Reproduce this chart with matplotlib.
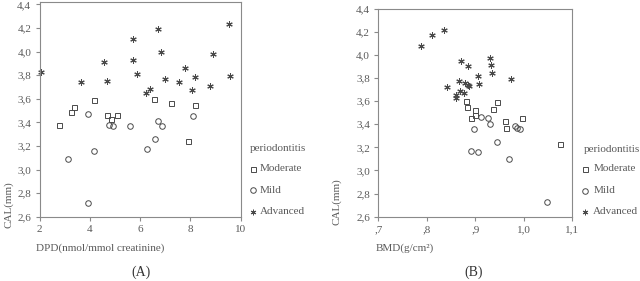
import matplotlib
matplotlib.use("Agg")
import matplotlib.pyplot as plt
from matplotlib.lines import Line2D
from matplotlib.ticker import FixedLocator, FixedFormatter

# ---------------- data ----------------
# Panel A: DPD (nmol/mmol creatinine) vs CAL (mm)
a_adv_x = [2.06, 3.64, 4.58, 4.68, 5.73, 5.71, 5.90, 6.22, 6.40, 6.73, 6.85, 7.01, 7.57, 7.78, 8.08, 8.20, 8.80, 8.90, 9.56, 9.60]
a_adv_y = [3.83, 3.74, 3.91, 3.75, 4.11, 3.93, 3.81, 3.65, 3.68, 4.19, 4.00, 3.77, 3.74, 3.86, 3.67, 3.78, 3.71, 3.98, 4.23, 3.79]
a_mod_x = [2.79, 3.27, 3.39, 4.18, 4.69, 4.85, 5.10, 6.57, 7.23, 8.20, 7.92]
a_mod_y = [3.38, 3.49, 3.53, 3.59, 3.46, 3.43, 3.46, 3.60, 3.56, 3.55, 3.24]
a_mild_x = [3.92, 4.77, 4.92, 5.59, 6.71, 6.89, 8.09, 6.60, 3.15, 4.18, 3.92, 6.27]
a_mild_y = [3.47, 3.38, 3.37, 3.37, 3.41, 3.37, 3.45, 3.26, 3.09, 3.16, 2.72, 3.17]

# Panel B: BMD (g/cm2) vs CAL (mm)
b_adv_x = [0.789, 0.810, 0.835, 0.841, 0.860, 0.860, 0.866, 0.868, 0.870, 0.876, 0.879, 0.884, 0.886, 0.884, 0.905, 0.907, 0.931, 0.932, 0.934, 0.974]
b_adv_y = [4.08, 4.17, 4.21, 3.72, 3.65, 3.63, 3.77, 3.69, 3.95, 3.67, 3.76, 3.74, 3.73, 3.90, 3.82, 3.75, 3.97, 3.91, 3.84, 3.79]
b_mod_x = [0.880, 0.883, 0.900, 0.899, 0.891, 0.945, 0.937, 0.962, 0.963, 0.996, 1.074]
b_mod_y = [3.60, 3.55, 3.52, 3.48, 3.45, 3.59, 3.53, 3.43, 3.37, 3.45, 3.23]
b_mild_x = [0.912, 0.926, 0.930, 0.897, 0.981, 0.986, 0.992, 0.945, 0.891, 0.906, 0.969, 1.048]
b_mild_y = [3.46, 3.45, 3.40, 3.36, 3.38, 3.37, 3.36, 3.25, 3.17, 3.16, 3.10, 2.73]

y_ticks = [2.6, 2.8, 3.0, 3.2, 3.4, 3.6, 3.8, 4.0, 4.2, 4.4]
y_tick_labels = ["2,6", "2,8", "3,0", "3,2", "3,4", "3,6", "3,8", "4,0", "4,2", "4,4"]
a_x_ticks = [2, 4, 6, 8, 10]
a_x_tick_labels = ["2", "4", "6", "8", "10"]
b_x_ticks = [0.7, 0.8, 0.9, 1.0, 1.1]
b_x_tick_labels = [",7", ",8", ",9", "1,0", "1,1"]
legend_title = "periodontitis"
legend_labels = ["Moderate", "Mild", "Advanced"]

# ---------------- style ----------------
plt.rcParams['font.family'] = ['Liberation Serif', 'DejaVu Serif']
TXT = "#5a5a5a"
SPN = "#8a8a8a"
MK = "#4a4a4a"
FS = 8
STAR = (6, 2, 0)

W, H = 640, 281
fig = plt.figure(figsize=(W / 100, H / 100), dpi=100)

def fx(px):
    return px / W

def fy(py):
    return 1 - py / H

axA = fig.add_axes([fx(39.5), fy(216.7), fx(240.5) - fx(39.5), fy(1.5) - fy(216.7)])
axB = fig.add_axes([fx(378.3), fy(216.7), fx(572.3) - fx(378.3), fy(8.5) - fy(216.7)])

def style(ax, xt, xtl, xlim, ylim):
    ax.set_xlim(*xlim)
    ax.set_ylim(*ylim)
    ax.xaxis.set_major_locator(FixedLocator(xt))
    ax.xaxis.set_major_formatter(FixedFormatter(xtl))
    ax.yaxis.set_major_locator(FixedLocator(y_ticks))
    ax.yaxis.set_major_formatter(FixedFormatter(y_tick_labels))
    for s in ax.spines.values():
        s.set_color(SPN)
        s.set_linewidth(0.8)
    ax.tick_params(direction='out', length=3, width=0.8, color=SPN,
                   labelcolor=TXT, labelsize=FS, pad=3)

def draw(ax, mx, my, cx, cy, sx, sy):
    ax.plot(mx, my, ls='none', marker='s', ms=3.6, mfc='none', mec=MK, mew=0.7, clip_on=False)
    ax.plot(cx, cy, ls='none', marker='o', ms=4.0, mfc='none', mec=MK, mew=0.7, clip_on=False)
    ax.plot(sx, sy, ls='none', marker=STAR, ms=4.6, mfc=MK, mec=MK, mew=0.75, clip_on=False)

draw(axA, a_mod_x, a_mod_y, a_mild_x, a_mild_y, a_adv_x, a_adv_y)
draw(axB, b_mod_x, b_mod_y, b_mild_x, b_mild_y, b_adv_x, b_adv_y)
style(axA, a_x_ticks, a_x_tick_labels, (2, 10), (2.6, 4.424))
style(axB, b_x_ticks, b_x_tick_labels, (0.7, 1.1), (2.6, 4.4))

# axis labels
fig.text(fx(9), fy(205), "CAL(mm)", rotation=90, ha='center', va='center', color=TXT, fontsize=FS)
fig.text(fx(336.5), fy(202), "CAL(mm)", rotation=90, ha='center', va='center', color=TXT, fontsize=FS)
fig.text(fx(35.5), fy(248), "DPD(nmol/mmol creatinine)", ha='left', va='center', color=TXT, fontsize=FS)
fig.text(fx(375.5), fy(248), "BMD(g/cm\u00b2)", ha='left', va='center', color=TXT, fontsize=FS)

# panel captions
fig.text(fx(141.5), fy(272), "(A)", ha='center', va='center', color="#333333", fontsize=10)
fig.text(fx(474), fy(272), "(B)", ha='center', va='center', color="#333333", fontsize=10)

# legends
def legend(x_title, x_mk, x_txt, y_title, ys):
    fig.text(fx(x_title), fy(y_title), legend_title, ha='left', va='center', color=TXT, fontsize=FS)
    markers = [('s', 3.6, 'none', 0.7), ('o', 4.0, 'none', 0.7), (STAR, 4.0, MK, 0.7)]
    for (m, ms, fc, mw), lab, yy in zip(markers, legend_labels, ys):
        fig.add_artist(Line2D([fx(x_mk)], [fy(yy)], marker=m, ms=ms, mfc=fc, mec=MK,
                              mew=mw, ls='none', transform=fig.transFigure))
        fig.text(fx(x_txt), fy(yy), lab, ha='left', va='center', color=TXT, fontsize=FS)

legend(249.3, 253, 259.5, 148.5, [168.5, 190.3, 211.8])
legend(583.3, 585, 593.3, 149, [168.8, 190.5, 212])

fig.savefig("out.png", dpi=100)
